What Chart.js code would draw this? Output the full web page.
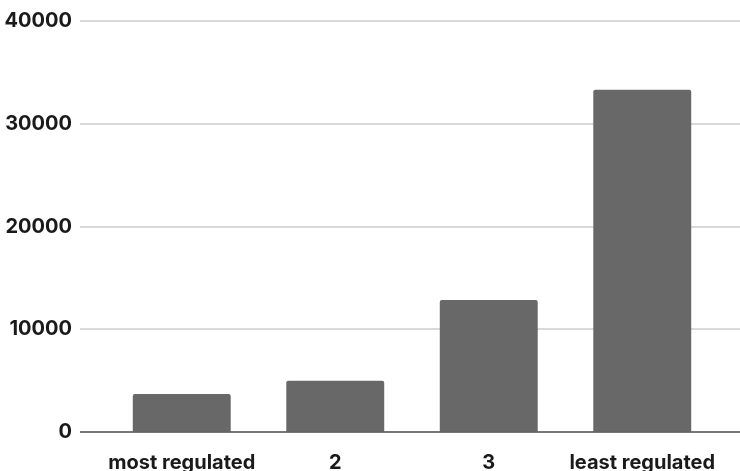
<!DOCTYPE html>
<html>
<head>
<meta charset="utf-8">
<script src="https://cdn.jsdelivr.net/npm/chart.js@4"></script>
<style>
  html, body { margin: 0; padding: 0; background: #ffffff; overflow: hidden; }
  #wrap { width: 740px; height: 471px; position: relative; }
</style>
</head>
<body>
<div id="wrap"><canvas id="c" width="740" height="471"></canvas></div>
<script>
const categories = ["most regulated", "2", "3", "least regulated"];
const values = [3700, 5000, 12850, 33300];
const yTicks = [0, 10000, 20000, 30000, 40000];

const gridPlugin = {
  id: 'customGrid',
  beforeDatasetsDraw(chart) {
    const ctx = chart.ctx;
    const y = chart.scales.y;
    ctx.save();
    ctx.strokeStyle = '#d9d9d9';
    ctx.lineWidth = 2;
    yTicks.forEach(v => {
      if (v === 0) return;
      const py = Math.round(y.getPixelForValue(v));
      ctx.beginPath();
      ctx.moveTo(80, py);
      ctx.lineTo(740, py);
      ctx.stroke();
    });
    ctx.restore();
  },
  afterDatasetsDraw(chart) {
    const ctx = chart.ctx;
    const y = chart.scales.y;
    const py = y.getPixelForValue(0);
    ctx.save();
    ctx.strokeStyle = '#4a4a4a';
    ctx.lineWidth = 1.5;
    ctx.beginPath();
    ctx.moveTo(80, py);
    ctx.lineTo(740, py);
    ctx.stroke();
    ctx.restore();
  }
};

new Chart(document.getElementById('c'), {
  type: 'bar',
  data: {
    labels: categories,
    datasets: [{
      data: values,
      backgroundColor: '#686868',
      borderWidth: 0,
      borderRadius: 2,
      borderSkipped: 'bottom',
      barPercentage: 0.638,
      categoryPercentage: 1.0
    }]
  },
  options: {
    responsive: false,
    animation: false,
    devicePixelRatio: 1,
    layout: { padding: { left: 0, right: 21, top: 21, bottom: 0 } },
    plugins: { legend: { display: false }, tooltip: { enabled: false } },
    scales: {
      x: {
        grid: { display: false, drawTicks: false },
        border: { display: false },
        ticks: {
          color: '#1a1a1a',
          padding: 19,
          maxRotation: 0,
          autoSkip: false,
          font: { family: 'Inter', weight: '700', size: 20 }
        },
        afterFit(scale) { scale.height = 39; }
      },
      y: {
        min: 0,
        max: 40000,
        afterBuildTicks(scale) { scale.ticks = yTicks.map(v => ({ value: v })); },
        grid: { display: true, drawOnChartArea: false, drawTicks: true, tickLength: 33, tickColor: 'rgba(0,0,0,0)' },
        border: { display: false },
        ticks: {
          color: '#1a1a1a',
          padding: 0,
          callback: (v) => String(v),
          font: { family: 'Inter', weight: '700', size: 20 }
        },
        afterFit(scale) { scale.width = 105; }
      }
    }
  },
  plugins: [gridPlugin]
});
</script>
</body>
</html>
